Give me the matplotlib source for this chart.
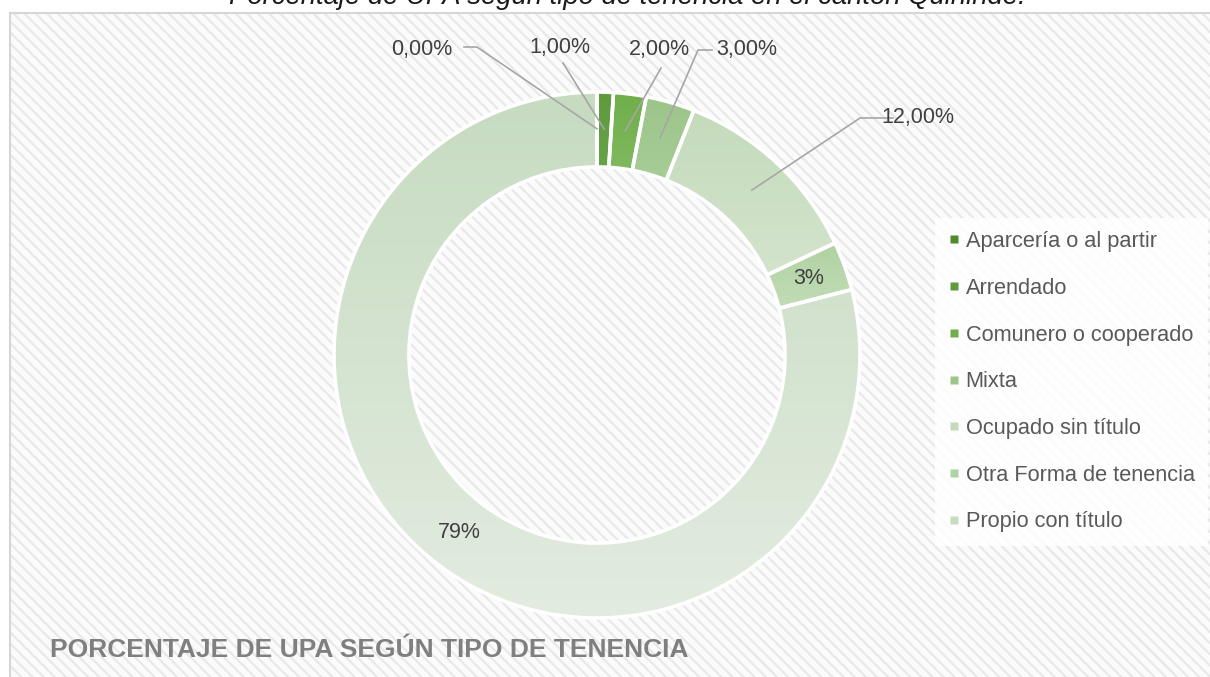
import numpy as np
import matplotlib
matplotlib.use("Agg")
import matplotlib.pyplot as plt
from matplotlib.patches import Rectangle
from matplotlib.lines import Line2D
from matplotlib.colors import LinearSegmentedColormap

W, H = 1210, 677

# --- data ---
categories = ["Aparcería o al partir", "Arrendado", "Comunero o cooperado", "Mixta",
              "Ocupado sin título", "Otra Forma de tenencia", "Propio con título"]
values = [0, 1, 2, 3, 12, 3, 79]
value_labels = ["0,00%", "1,00%", "2,00%", "3,00%", "12,00%", "3%", "79%"]

# --- styles ---
top_colors = ["#4f8a30", "#5f9a3e", "#6fae4a", "#9cc58a", "#c4dbbb", "#b0d2a2", "#c7dbc1"]
bottom_colors = ["#6fa855", "#80b866", "#a8d391", "#c0dab2", "#dbe8d5", "#cfe3c6", "#e2ece0"]

plt.rcParams['font.family'] = ['Liberation Sans', 'DejaVu Sans']
plt.rcParams['hatch.linewidth'] = 1.5

fig = plt.figure(figsize=(W / 100, H / 100), dpi=100)
fig.patch.set_facecolor('white')

# hatched chart area + border (behind everything)
top_px = 13
fig.patches.append(Rectangle((10 / W, -0.05), 1.1, (H - top_px) / H + 0.05, transform=fig.transFigure,
                             facecolor='#fbfbfb', edgecolor='#e8e8e8', hatch='\\\\\\', linewidth=0,
                             zorder=-10))
fig.patches.append(Rectangle((10 / W, -0.05), 1.1, (H - top_px) / H + 0.05, transform=fig.transFigure,
                             facecolor='none', edgecolor='#d6d6d6', linewidth=1.5, zorder=-9))

# donut axes: centre (597, 355) px, radius 263 px
cx, cy, R = 597, 355, 263
ax = fig.add_axes([(cx - R) / W, (H - cy - R) / H, 2 * R / W, 2 * R / H])
ax.set_facecolor('none')

wedges, _ = ax.pie(values, startangle=90, counterclock=False, radius=1,
                   wedgeprops=dict(width=0.285, edgecolor='white', linewidth=2.6))

for w, c0, c1, v in zip(wedges, top_colors, bottom_colors, values):
    w.set_zorder(3)
    if v <= 0:
        continue
    verts = w.get_path().vertices
    x0, x1 = verts[:, 0].min(), verts[:, 0].max()
    y0, y1 = verts[:, 1].min(), verts[:, 1].max()
    cmap = LinearSegmentedColormap.from_list("g", [c0, c1])
    grad = np.linspace(0, 1, 256).reshape(-1, 1)
    im = ax.imshow(grad, extent=(x0, x1, y0, y1), origin='upper', cmap=cmap,
                   aspect='auto', zorder=2, interpolation='bilinear')
    im.set_clip_path(w)
    w.set_facecolor('none')

ax.set_xlim(-1, 1)
ax.set_ylim(-1, 1)
ax.axis('off')


def to_data(px, py):
    return (px - cx) / R, (cy - py) / R


# mid angles of each slice
total = sum(values)
cum = np.cumsum([0] + values)
mids = [np.deg2rad(90 - 360 * (cum[i] + values[i] / 2) / total) for i in range(len(values))]

# label layout (px): text centre, leader start, elbow
label_layout = [
    ((422, 50), (464, 47), (477, 47)),
    ((560, 47), (563, 63), None),
    ((659, 50), (661, 68), None),
    ((747, 50), (712, 50), (698, 50)),
    ((918, 118), (893, 118), (860, 118)),
]
for i, (tpos, start, elbow) in enumerate(label_layout):
    tx, ty = to_data(*tpos)
    ax.text(tx, ty, value_labels[i], ha='center', va='center', fontsize=15.5,
            color='#404040', clip_on=False, zorder=5)
    target = (0.86 * np.cos(mids[i]), 0.86 * np.sin(mids[i]))
    pts = [to_data(*start)]
    if elbow is not None:
        pts.append(to_data(*elbow))
    pts.append(target)
    xs, ys = zip(*pts)
    ax.plot(xs, ys, color='#a6a6a6', lw=1.2, zorder=4, clip_on=False)

for i in (5, 6):
    ax.text(0.855 * np.cos(mids[i]), 0.855 * np.sin(mids[i]), value_labels[i],
            ha='center', va='center', fontsize=15.5, color='#404040', zorder=5)

# legend
handles = [Line2D([], [], marker='s', ls='', markersize=6, markerfacecolor=c,
                  markeredgecolor='none') for c in top_colors]
leg = fig.legend(handles, categories, loc='upper left', bbox_to_anchor=(935 / W, 1 - 218 / H),
                 frameon=True, fancybox=False, facecolor='white', edgecolor='none', framealpha=0.85,
                 fontsize=15.7, labelspacing=1.18, handlelength=0.5, handletextpad=0.3,
                 borderpad=0.6, borderaxespad=0)
for t in leg.get_texts():
    t.set_color('#595959')

# titles (top one is cut off by the image edge, as in the source)
fig.text(627 / W, 1 - 4 / H, "Porcentaje de UPA según tipo de tenencia en el cantón Quinindé.",
         ha='center', va='baseline', fontsize=19.8, style='italic', color='#1a1a1a')
fig.text(50 / W, 1 - 657 / H, "PORCENTAJE DE UPA SEGÚN TIPO DE TENENCIA",
         ha='left', va='baseline', fontsize=19, fontweight='bold', color='#7f7f7f')

fig.savefig("out.png", dpi=100, facecolor='white')
